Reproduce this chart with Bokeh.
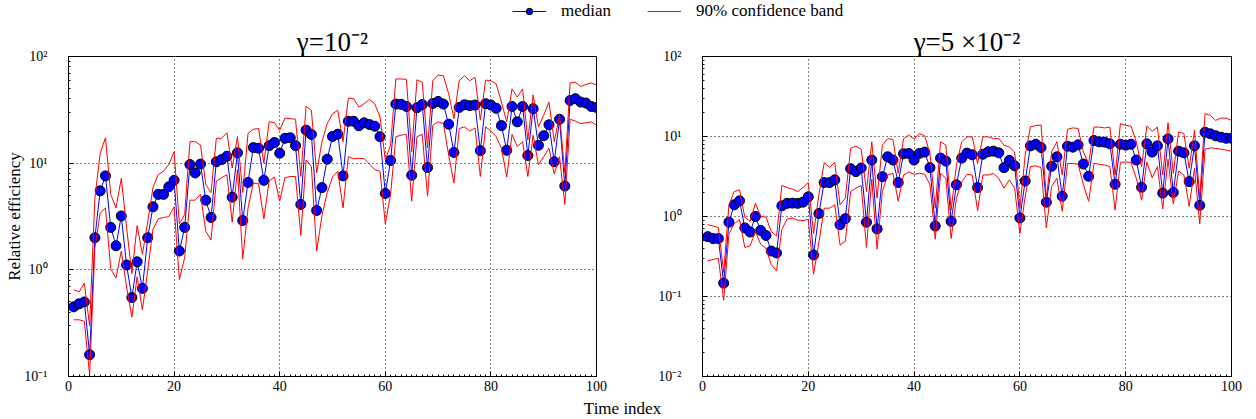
import math
from bokeh.plotting import figure
from bokeh.models import (Range1d, FixedTicker, CustomJSTickFormatter,
                          Legend, LegendItem, Label, ColumnDataSource)
from bokeh.layouts import column, row
from bokeh.embed import file_html
from bokeh.resources import INLINE

FONT = "Liberation Serif"

time_index = list(range(1, 101))

left_median = [0.45, 0.48, 0.50, 0.16, 2.0, 5.5, 7.6, 2.5, 1.68, 3.2,
               1.11, 0.55, 1.19, 0.67, 2.0, 3.9, 5.1, 5.1, 6.0, 6.9,
               1.5, 2.5, 9.7, 8.1, 9.8, 4.5, 3.1, 10.3, 10.8, 11.6,
               4.8, 12.5, 2.9, 6.6, 14.0, 13.8, 6.9, 14.6, 15.6, 12.4,
               17.1, 17.3, 14.6, 4.1, 20.4, 18.6, 3.6, 5.9, 10.9, 17.8,
               18.7, 7.6, 24.7, 24.7, 22.4, 23.9, 23.0, 22.2, 17.7, 5.2,
               10.6, 35.8, 35.6, 34.0, 7.7, 33.1, 35.4, 9.1, 36.3, 37.9,
               35.8, 23.2, 12.6, 33.3, 35.3, 34.6, 35.1, 13.1, 36.1, 35.1,
               32.7, 22.5, 13.2, 34.0, 24.4, 34.0, 11.8, 32.4, 14.7, 18.1,
               22.9, 10.3, 25.8, 6.1, 38.7, 40.2, 37.4, 36.6, 34.0, 33.3]

left_upper = [0.65, 0.62, 0.75, 0.30, 4.7, 12.4, 17.3, 5.1, 3.8, 7.2,
              2.5, 0.92, 2.6, 1.4, 2.8, 5.9, 7.8, 8.4, 9.7, 12.8,
              2.7, 3.3, 15.9, 15.9, 14.8, 6.3, 5.3, 17.1, 17.1, 19.3,
              9.0, 17.7, 5.3, 19.0, 20.8, 21.1, 10.0, 24.4, 23.9, 20.4,
              26.5, 26.2, 25.8, 7.5, 34.1, 31.3, 8.1, 15.9, 23.5, 29.1,
              31.3, 15.9, 40.7, 40.2, 33.6, 36.1, 39.6, 36.1, 27.1, 10.7,
              14.8, 61.6, 61.6, 61.0, 12.8, 60.5, 57.4, 14.0, 59.4, 67.0,
              66.0, 44.7, 26.2, 59.4, 66.0, 59.4, 63.6, 25.3, 60.0, 59.4,
              55.3, 37.4, 24.4, 49.7, 41.6, 49.7, 16.5, 43.7, 21.9, 28.1,
              37.4, 15.9, 28.1, 8.1, 56.5, 57.4, 52.3, 54.7, 56.5, 54.2]

left_lower = [0.34, 0.34, 0.33, 0.104, 1.6, 3.4, 3.8, 1.02, 0.84, 1.5,
              0.69, 0.36, 0.86, 0.42, 0.99, 2.4, 3.0, 3.1, 3.15, 3.9,
              0.81, 1.3, 4.5, 4.5, 5.1, 2.3, 1.9, 6.8, 7.3, 7.8,
              2.8, 8.7, 1.26, 3.8, 6.5, 6.4, 3.0, 6.8, 7.4, 4.4,
              7.3, 7.5, 7.5, 2.1, 10.7, 9.3, 1.5, 3.2, 5.3, 7.4,
              8.4, 3.8, 11.5, 11.0, 11.1, 11.0, 9.8, 8.7, 8.4, 2.7,
              5.1, 17.7, 18.3, 18.6, 4.4, 17.7, 18.6, 4.9, 22.7, 24.4,
              23.5, 11.9, 6.5, 21.1, 21.9, 20.0, 21.4, 7.5, 21.9, 20.0,
              17.7, 13.8, 7.4, 18.6, 14.3, 15.9, 7.5, 18.3, 9.7, 11.5,
              13.8, 7.9, 11.5, 4.1, 25.8, 24.8, 23.5, 23.9, 24.4, 22.7]

right_median = [0.56, 0.53, 0.53, 0.147, 0.85, 1.40, 1.57, 0.72, 0.64, 1.0,
                0.67, 0.58, 0.37, 0.35, 1.36, 1.46, 1.47, 1.46, 1.51, 1.76,
                0.33, 1.09, 2.66, 2.65, 2.87, 0.79, 0.94, 3.96, 3.64, 4.04,
                0.85, 5.08, 0.70, 3.15, 5.58, 5.08, 2.66, 6.08, 6.15, 5.08,
                6.15, 6.38, 4.08, 0.76, 5.37, 4.93, 0.87, 2.49, 5.37, 6.2,
                5.91, 2.3, 6.0, 6.44, 6.56, 6.25, 4.08, 5.03, 4.31, 0.96,
                2.78, 7.64, 8.01, 7.28, 1.51, 4.25, 5.58, 1.79, 7.57, 7.36,
                7.87, 4.53, 3.18, 8.9, 8.57, 8.5, 8.1, 2.53, 8.0, 7.8,
                8.0, 5.08, 2.32, 8.1, 6.38, 7.64, 1.96, 9.33, 2.0, 6.56,
                6.25, 2.73, 7.64, 1.38, 11.3, 10.8, 10.2, 9.8, 9.5, 9.5]

right_upper = [0.79, 0.76, 0.73, 0.20, 1.4, 2.05, 2.15, 0.98, 0.87, 1.47,
               1.0, 0.98, 0.65, 0.57, 2.44, 2.3, 2.2, 2.05, 2.3, 2.65,
               0.61, 1.87, 4.7, 4.1, 4.75, 1.4, 1.7, 7.1, 7.6, 6.9,
               2.05, 8.6, 1.7, 7.8, 9.4, 9.2, 3.46, 9.4, 10.4, 9.3,
               10.9, 10.2, 6.1, 1.27, 8.6, 7.8, 1.2, 4.4, 8.6, 9.9,
               9.9, 4.6, 9.9, 9.9, 9.4, 9.4, 7.8, 7.4, 6.4, 1.27,
               5.85, 13.2, 13.7, 13.9, 1.7, 6.44, 8.6, 3.3, 12.3, 12.8,
               12.6, 6.4, 4.6, 13.1, 13.1, 12.8, 13.1, 3.3, 14.5, 13.8,
               13.5, 8.6, 4.2, 13.5, 11.6, 13.1, 3.3, 14.9, 3.46, 11.4,
               10.9, 4.0, 12.0, 1.7, 19.3, 18.4, 15.9, 17.0, 17.0, 15.9]

right_lower = [0.28, 0.29, 0.30, 0.09, 0.61, 0.81, 0.92, 0.41, 0.43, 0.65,
               0.45, 0.40, 0.25, 0.21, 0.69, 0.93, 0.96, 0.90, 0.89, 0.92,
               0.19, 0.47, 1.27, 1.27, 1.4, 0.44, 0.49, 2.05, 2.26, 2.44,
               0.41, 2.92, 0.39, 2.05, 3.3, 3.46, 1.55, 3.3, 3.6, 3.37,
               3.46, 3.37, 2.5, 0.52, 3.46, 3.0, 0.53, 1.7, 2.7, 3.37,
               3.3, 1.18, 3.3, 3.3, 3.46, 3.0, 2.26, 2.87, 2.26, 0.61,
               1.78, 4.2, 4.3, 4.1, 0.72, 2.37, 3.0, 1.16, 4.6, 4.6,
               4.5, 2.5, 1.55, 4.6, 4.5, 4.4, 4.2, 1.2, 4.75, 4.8,
               4.75, 3.0, 1.6, 4.8, 3.06, 4.2, 1.24, 5.2, 1.43, 3.7,
               3.3, 1.34, 4.0, 0.81, 6.95, 7.2, 7.1, 6.95, 6.76, 6.56]

x_ticks = [0, 20, 40, 60, 80, 100]
titles = ["\u03b3=10\u207b\u00b2", "\u03b3=5 \u00d710\u207b\u00b2"]
y_label = "Relative efficiency"
x_label = "Time index"
legend_labels = ["median", "90% confidence band"]

SUP_JS = """
const s = {"-": "\u207b", "0": "\u2070", "1": "\u00b9", "2": "\u00b2", "3": "\u00b3",
           "4": "\u2074", "5": "\u2075", "6": "\u2076", "7": "\u2077", "8": "\u2078", "9": "\u2079"};
const e = Math.round(Math.log10(tick));
return "10" + String(e).split("").map(c => s[c]).join("");
"""


def style_axis(ax):
    ax.major_tick_in = 5
    ax.major_tick_out = 0
    ax.minor_tick_in = 2
    ax.minor_tick_out = 0
    ax.axis_line_color = "black"
    ax.major_tick_line_color = "black"
    ax.minor_tick_line_color = "black"
    ax.major_label_text_font = FONT
    ax.major_label_text_color = "black"
    ax.major_label_text_font_size = "14px"


def make_panel(title, med, up, lo, y_lo, width, bl, br, ylabel):
    p = figure(width=width, height=372, x_range=Range1d(0, 100), y_range=Range1d(y_lo, 100),
               y_axis_type="log", output_backend="svg", toolbar_location=None,
               min_border_left=bl, min_border_right=br, min_border_top=30, min_border_bottom=20)
    e_lo = round(math.log10(y_lo))
    decades = [10.0 ** e for e in range(e_lo, 3)]
    minors = [m * 10.0 ** e for e in range(e_lo, 2) for m in range(2, 10)]
    xt = FixedTicker(ticks=x_ticks, minor_ticks=list(range(0, 101)))
    yt = FixedTicker(ticks=decades, minor_ticks=minors)

    p.xaxis[0].ticker = xt
    p.yaxis[0].ticker = yt
    p.yaxis[0].formatter = CustomJSTickFormatter(code=SUP_JS)
    style_axis(p.xaxis[0])
    style_axis(p.yaxis[0])
    p.xaxis[0].major_label_standoff = 4
    p.yaxis[0].major_label_standoff = 21
    if ylabel:
        p.yaxis[0].axis_label = ylabel
        p.yaxis[0].axis_label_text_font = FONT
        p.yaxis[0].axis_label_text_font_size = "17px"
        p.yaxis[0].axis_label_text_font_style = "normal"
        p.yaxis[0].axis_label_text_color = "black"
        p.yaxis[0].axis_label_standoff = -3

    p.xgrid.ticker = xt
    p.ygrid.ticker = yt
    p.grid.grid_line_color = "black"
    p.grid.grid_line_dash = "1 3"
    p.grid.grid_line_width = 1
    p.grid.grid_line_alpha = 1.0

    p.outline_line_color = "black"
    p.outline_line_alpha = 1.0
    p.outline_line_width = 1

    p.title.text = title
    p.title.align = "center"
    p.title.text_font = FONT
    p.title.text_font_size = "27px"
    p.title.text_font_style = "normal"
    p.title.text_color = "black"
    p.title.standoff = 0
    p.title.offset = 0

    src = ColumnDataSource(dict(x=time_index, med=med, up=up, lo=lo))
    p.line("x", "med", source=src, color="blue", line_width=1)
    p.scatter("x", "med", source=src, size=10, fill_color="blue", line_color="black", line_width=1)
    p.line("x", "up", source=src, color="red", line_width=1)
    p.line("x", "lo", source=src, color="red", line_width=1)
    return p


p1 = make_panel(titles[0], left_median, left_upper, left_lower, 0.1, 650, 68, 54, y_label)
p2 = make_panel(titles[1], right_median, right_upper, right_lower, 0.01, 598, 52, 17, None)

# legend strip: proxy renderers use the real series but sit outside this strip's visible range
leg = figure(width=1248, height=24, x_range=Range1d(0, 1248), y_range=Range1d(1000, 1024),
             output_backend="svg", toolbar_location=None, x_axis_location=None,
             y_axis_location=None, min_border=0, outline_line_color=None)
leg.grid.visible = False
lsrc = ColumnDataSource(dict(x=time_index, med=left_median, up=left_upper))
rl = leg.line("x", "med", source=lsrc, color="blue", line_width=1)
rs = leg.scatter("x", "med", source=lsrc, size=10, fill_color="blue", line_color="black", line_width=1)
rr = leg.line("x", "up", source=lsrc, color="red", line_width=1)
legend = Legend(items=[LegendItem(label=legend_labels[0], renderers=[rl, rs]),
                       LegendItem(label=legend_labels[1], renderers=[rr])],
                orientation="horizontal", location=(512, 3))
legend.label_text_font = FONT
legend.label_text_font_size = "17px"
legend.label_text_color = "black"
legend.glyph_width = 34
legend.glyph_height = 16
legend.label_height = 16
legend.padding = 0
legend.margin = 0
legend.spacing = 36
legend.label_standoff = 15
legend.border_line_color = None
legend.background_fill_alpha = 0
leg.add_layout(legend)

# shared x label strip
xl = figure(width=1248, height=22, x_range=Range1d(0, 1248), y_range=Range1d(0, 22),
            output_backend="svg", toolbar_location=None, x_axis_location=None,
            y_axis_location=None, min_border=0, outline_line_color=None)
xl.grid.visible = False
xl.add_layout(Label(x=622, y=10, text=x_label, text_align="center", text_baseline="middle",
                    text_font=FONT, text_font_size="17px", text_color="black"))

layout = column(leg, row(p1, p2), xl)
open("out.html", "w").write(file_html(layout, INLINE))
